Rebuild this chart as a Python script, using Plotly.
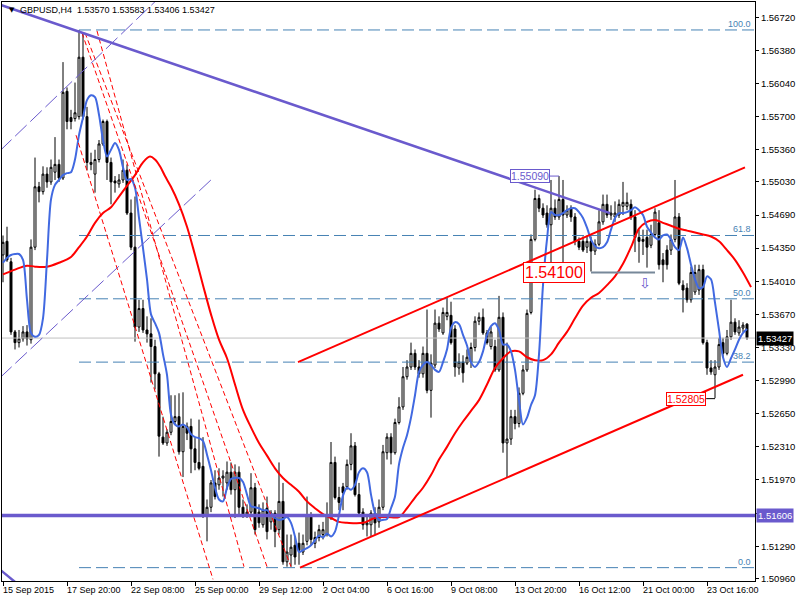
import plotly.graph_objects as go

# ---------------- data ----------------
tick_idx = [0, 16, 32, 48, 64, 80, 96, 112, 128, 144, 160, 176]
tick_labels = ["15 Sep 2015", "17 Sep 20:00", "22 Sep 08:00", "25 Sep 00:00", "29 Sep 12:00",
               "2 Oct 04:00", "6 Oct 16:00", "9 Oct 08:00", "13 Oct 20:00", "16 Oct 12:00",
               "21 Oct 00:00", "23 Oct 16:00"]

price_ticks = [1.5096, 1.5129, 1.5163, 1.5197, 1.5231, 1.5265, 1.5299, 1.5333, 1.5367,
               1.5401, 1.5435, 1.5469, 1.5503, 1.5536, 1.5570, 1.5604, 1.5638, 1.5672]
price_tick_labels = ["1.50960", "1.51290", "", "1.51970", "1.52310", "1.52650", "1.52990",
                     "1.53330", "1.53670", "1.54010", "1.54350", "1.54690", "1.55030",
                     "1.55360", "1.55700", "1.56040", "1.56380", "1.56720"]

bars = list(range(187))
open_ = [1.5428,1.5442,1.5421,1.5349,1.5338,1.5342,1.5349,1.5341,1.5436,1.5498,
         1.5493,1.5511,1.5503,1.5513,1.5521,1.5507,1.5596,1.5569,1.5568,1.5570,
         1.5631,1.5570,1.5521,1.5511,1.5526,1.5542,1.5565,1.5523,1.5504,1.5501,
         1.5505,1.5515,1.5471,1.5436,1.5354,1.5373,1.5351,1.5347,1.5334,1.5306,
         1.5241,1.5235,1.5246,1.5257,1.5262,1.5226,1.5252,1.5252,1.5229,1.5215,
         1.5211,1.5161,1.5169,1.5194,1.5192,1.5199,1.5194,1.5205,1.5187,1.5205,
         1.5169,1.5161,1.5164,1.5189,1.5164,1.5151,1.5168,1.5154,1.5163,1.5146,
         1.5175,1.5113,1.5120,1.5130,1.5132,1.5123,1.5134,1.5161,1.5132,1.5138,
         1.5141,1.5141,1.5158,1.5215,1.5179,1.5190,1.5190,1.5213,1.5232,1.5182,
         1.5164,1.5151,1.5151,1.5163,1.5154,1.5169,1.5225,1.5241,1.5225,1.5256,
         1.5272,1.5303,1.5313,1.5327,1.5313,1.5306,1.5327,1.5289,1.5315,1.5358,
         1.5348,1.5365,1.5366,1.5352,1.5312,1.5318,1.5317,1.5318,1.5333,1.5360,
         1.5364,1.5348,1.5334,1.5334,1.5310,1.5364,1.5235,1.5239,1.5262,1.5255,
         1.5286,1.5310,1.5369,1.5444,1.5486,1.5476,1.5471,1.5459,1.5476,1.5467,
         1.5485,1.5469,1.5476,1.5467,1.5442,1.5442,1.5436,1.5442,1.5432,1.5439,
         1.5462,1.5480,1.5469,1.5467,1.5469,1.5478,1.5478,1.5480,1.5467,1.5446,
         1.5444,1.5446,1.5438,1.5449,1.5461,1.5423,1.5433,1.5433,1.5444,1.5467,
         1.5397,1.5394,1.5382,1.5390,1.5392,1.5413,1.5338,1.5312,1.5305,1.5313,
         1.5338,1.5327,1.5344,1.5359,1.5348,1.5353,1.5357]
high = [1.5448,1.5457,1.5425,1.5351,1.5351,1.5355,1.5356,1.5444,1.5528,1.5503,
        1.5519,1.5518,1.5526,1.5549,1.5526,1.5626,1.5600,1.5577,1.5605,1.5659,
        1.5656,1.5580,1.5533,1.5536,1.5546,1.5567,1.5567,1.5528,1.5509,1.5511,
        1.5526,1.5521,1.5485,1.5488,1.5382,1.5382,1.5365,1.5363,1.5341,1.5308,
        1.5262,1.5249,1.5284,1.5284,1.5286,1.5287,1.5256,1.5260,1.5240,1.5259,
        1.5241,1.5177,1.5197,1.5207,1.5209,1.5207,1.5216,1.5215,1.5213,1.5211,
        1.5177,1.5172,1.5204,1.5194,1.5172,1.5174,1.5180,1.5166,1.5166,1.5215,
        1.5194,1.5141,1.5141,1.5139,1.5143,1.5141,1.5180,1.5164,1.5144,1.5151,
        1.5154,1.5174,1.5236,1.5221,1.5190,1.5194,1.5218,1.5245,1.5236,1.5194,
        1.5168,1.5159,1.5166,1.5169,1.5177,1.5233,1.5245,1.5245,1.5260,1.5282,
        1.5313,1.5320,1.5338,1.5331,1.5320,1.5334,1.5372,1.5326,1.5372,1.5365,
        1.5374,1.5384,1.5380,1.5356,1.5327,1.5325,1.5331,1.5338,1.5365,1.5369,
        1.5373,1.5351,1.5354,1.5341,1.5386,1.5369,1.5338,1.5269,1.5269,1.5292,
        1.5315,1.5372,1.5449,1.5495,1.5490,1.5481,1.5479,1.5505,1.5485,1.5509,
        1.5505,1.5479,1.5479,1.5471,1.5446,1.5447,1.5448,1.5447,1.5444,1.5474,
        1.5490,1.5490,1.5479,1.5483,1.5485,1.5503,1.5492,1.5485,1.5474,1.5454,
        1.5454,1.5454,1.5459,1.5476,1.5474,1.5430,1.5438,1.5449,1.5505,1.5471,
        1.5402,1.5399,1.5416,1.5418,1.5418,1.5418,1.5341,1.5320,1.5320,1.5343,
        1.5343,1.5351,1.5382,1.5363,1.5361,1.5359,1.5358]
low = [1.5400,1.5421,1.5346,1.5331,1.5333,1.5339,1.5335,1.5337,1.5433,1.5482,
       1.5490,1.5497,1.5500,1.5505,1.5503,1.5505,1.5557,1.5557,1.5565,1.5567,
       1.5567,1.5515,1.5515,1.5492,1.5523,1.5540,1.5505,1.5480,1.5492,1.5497,
       1.5502,1.5469,1.5433,1.5339,1.5349,1.5348,1.5338,1.5297,1.5290,1.5221,
       1.5233,1.5232,1.5243,1.5254,1.5223,1.5200,1.5238,1.5204,1.5207,1.5207,
       1.5158,1.5134,1.5164,1.5177,1.5187,1.5180,1.5187,1.5182,1.5158,1.5159,
       1.5158,1.5158,1.5161,1.5141,1.5148,1.5148,1.5136,1.5146,1.5128,1.5141,
       1.5110,1.5108,1.5108,1.5110,1.5110,1.5120,1.5130,1.5130,1.5127,1.5134,
       1.5136,1.5139,1.5156,1.5177,1.5166,1.5166,1.5187,1.5207,1.5180,1.5161,
       1.5146,1.5139,1.5139,1.5141,1.5148,1.5166,1.5218,1.5213,1.5223,1.5254,
       1.5269,1.5300,1.5310,1.5310,1.5302,1.5302,1.5286,1.5261,1.5312,1.5349,
       1.5346,1.5361,1.5336,1.5303,1.5305,1.5297,1.5315,1.5312,1.5329,1.5356,
       1.5346,1.5336,1.5331,1.5308,1.5308,1.5225,1.5200,1.5233,1.5249,1.5251,
       1.5284,1.5308,1.5367,1.5442,1.5472,1.5466,1.5456,1.5416,1.5464,1.5464,
       1.5413,1.5466,1.5462,1.5438,1.5433,1.5431,1.5430,1.5411,1.5428,1.5437,
       1.5459,1.5466,1.5464,1.5462,1.5466,1.5469,1.5474,1.5464,1.5431,1.5420,
       1.5428,1.5415,1.5435,1.5447,1.5413,1.5400,1.5413,1.5428,1.5441,1.5397,
       1.5369,1.5379,1.5379,1.5387,1.5387,1.5336,1.5305,1.5305,1.5281,1.5310,
       1.5323,1.5325,1.5341,1.5346,1.5345,1.5349,1.5341]
close = [1.5441,1.5423,1.5349,1.5338,1.5342,1.5349,1.5342,1.5436,1.5498,1.5493,
         1.5511,1.5503,1.5518,1.5521,1.5507,1.5595,1.5565,1.5565,1.5574,1.5631,
         1.5570,1.5523,1.5523,1.5526,1.5542,1.5565,1.5523,1.5503,1.5502,1.5505,
         1.5515,1.5471,1.5436,1.5354,1.5373,1.5351,1.5347,1.5334,1.5306,1.5242,
         1.5235,1.5246,1.5257,1.5262,1.5226,1.5252,1.5245,1.5229,1.5215,1.5209,
         1.5161,1.5169,1.5194,1.5180,1.5199,1.5201,1.5205,1.5187,1.5205,1.5169,
         1.5161,1.5164,1.5189,1.5146,1.5153,1.5166,1.5144,1.5163,1.5144,1.5175,
         1.5113,1.5123,1.5128,1.5118,1.5125,1.5132,1.5161,1.5136,1.5138,1.5146,
         1.5146,1.5161,1.5215,1.5179,1.5174,1.5184,1.5213,1.5232,1.5182,1.5163,
         1.5151,1.5153,1.5163,1.5153,1.5169,1.5226,1.5241,1.5225,1.5256,1.5272,
         1.5303,1.5313,1.5327,1.5313,1.5306,1.5327,1.5289,1.5317,1.5358,1.5352,
         1.5369,1.5369,1.5338,1.5313,1.5318,1.5307,1.5323,1.5333,1.5360,1.5364,
         1.5348,1.5338,1.5349,1.5310,1.5364,1.5235,1.5239,1.5262,1.5255,1.5286,
         1.5310,1.5368,1.5444,1.5486,1.5476,1.5469,1.5459,1.5476,1.5467,1.5485,
         1.5469,1.5474,1.5467,1.5442,1.5436,1.5433,1.5442,1.5432,1.5439,1.5462,
         1.5480,1.5469,1.5471,1.5471,1.5480,1.5482,1.5482,1.5467,1.5446,1.5442,
         1.5442,1.5436,1.5449,1.5472,1.5418,1.5418,1.5418,1.5444,1.5467,1.5399,
         1.5392,1.5382,1.5410,1.5410,1.5413,1.5338,1.5312,1.5308,1.5313,1.5336,
         1.5327,1.5344,1.5359,1.5349,1.5354,1.5356,1.5343]

# fast moving average (blue), one value per bar
blue_ma = [1.5420,1.5425,1.5428,1.5429,1.5429,1.5423,1.5382,1.5348,1.5344,1.5346,
           1.5363,1.5423,1.5485,1.5500,1.5505,1.5510,1.5512,1.5513,1.5526,1.5551,
           1.5569,1.5587,1.5592,1.5590,1.5572,1.5546,1.5529,1.5536,1.5543,1.5536,
           1.5518,1.5505,1.5506,1.5497,1.5466,1.5435,1.5403,1.5367,1.5358,1.5348,
           1.5326,1.5305,1.5264,1.5254,1.5252,1.5254,1.5251,1.5244,1.5241,1.5240,
           1.5237,1.5223,1.5207,1.5189,1.5177,1.5175,1.5189,1.5198,1.5199,1.5199,
           1.5195,1.5182,1.5170,1.5169,1.5168,1.5166,1.5166,1.5162,1.5158,1.5156,
           1.5157,1.5159,1.5153,1.5139,1.5123,1.5125,1.5127,1.5130,1.5135,1.5140,
           1.5138,1.5142,1.5139,1.5144,1.5161,1.5181,1.5189,1.5187,1.5192,1.5205,
           1.5209,1.5205,1.5182,1.5163,1.5156,1.5156,1.5157,1.5168,1.5180,1.5213,
           1.5230,1.5243,1.5261,1.5284,1.5308,1.5315,1.5318,1.5315,1.5310,1.5308,
           1.5318,1.5331,1.5353,1.5359,1.5357,1.5346,1.5335,1.5318,1.5313,1.5318,
           1.5329,1.5346,1.5355,1.5358,1.5351,1.5336,1.5336,1.5329,1.5310,1.5279,
           1.5254,1.5261,1.5274,1.5284,1.5326,1.5397,1.5444,1.5472,1.5469,1.5469,
           1.5471,1.5474,1.5476,1.5476,1.5472,1.5466,1.5456,1.5444,1.5437,1.5435,
           1.5436,1.5441,1.5454,1.5466,1.5471,1.5471,1.5472,1.5474,1.5477,1.5474,
           1.5469,1.5457,1.5451,1.5446,1.5444,1.5448,1.5449,1.5444,1.5436,1.5433,
           1.5446,1.5435,1.5418,1.5403,1.5394,1.5395,1.5406,1.5403,1.5379,1.5351,
           1.5323,1.5313,1.5322,1.5331,1.5341,1.5348,1.5352]

# slow moving average (red), read at selected bars
red_ma_x = [0,3,6,8,11,14,17,19,21,23,25,27,29,31,33,35,36.75,38,39.25,40.5,
            42,44,46,48,50,52,54,56,58,60,62,64,66,68,70,72,74,76,78,80,
            82,84,86,90,93,96,99,101,103,105,107,109,111,113,115,117,119,121,123,125,
            127,129,131,133,135,137,139,141,143,145,147,149,151,153,155,157,159,161,163,165,
            167,169,171,173,175,177,179,181,183,185,187]
red_ma_y = [1.5408,1.5413,1.5417,1.5416,1.5416,1.5420,1.5426,1.5436,1.5447,1.5461,
            1.5471,1.5477,1.5488,1.5499,1.5510,1.5523,1.5529,1.5526,1.5519,1.5509,
            1.5498,1.5480,1.5457,1.5428,1.5397,1.5367,1.5341,1.5322,1.5295,1.5269,
            1.5251,1.5235,1.5222,1.5209,1.5199,1.5192,1.5185,1.5175,1.5168,1.5162,
            1.5158,1.5154,1.5153,1.5153,1.5158,1.5159,1.5159,1.5168,1.5179,1.5189,
            1.5202,1.5218,1.5231,1.5245,1.5257,1.5268,1.5279,1.5295,1.5312,1.5322,
            1.5329,1.5329,1.5323,1.5320,1.5320,1.5326,1.5338,1.5349,1.5363,1.5376,
            1.5384,1.5389,1.5397,1.5406,1.5419,1.5436,1.5455,1.5462,1.5464,1.5461,
            1.5458,1.5455,1.5453,1.5451,1.5449,1.5447,1.5442,1.5433,1.5423,1.5410,
            1.5395]

last_price = 1.53427
hline_price = 1.51606
fib_names = ["0.0", "38.2", "50.0", "61.8", "100.0"]
fib_prices = [1.5107, 1.5318, 1.5383, 1.5448, 1.5659]
fib_start = 19

# drawn objects: (bar, price) end points
purple_trend = ([-0.75, 151.75], [1.5685, 1.5471])
purple_trend_low = ([-0.75, 12], [1.5105, 1.5062])
purple_thin = [([-0.75, 38.5], [1.5535, 1.5690]), ([-0.75, 52.5], [1.5302, 1.5507])]
red_channel = [([73.75, 185.5], [1.5318, 1.5518]), ([74.25, 185.0], [1.5107, 1.5305])]
red_fan = [([18.25, 52.5], [1.5551, 1.5095]),
           ([19.75, 66.0], [1.5656, 1.5108]),
           ([20.5, 72.0], [1.5656, 1.5108]),
           ([23.5, 60.25], [1.5658, 1.5108])]
level_54100 = ([147, 163], [1.5410, 1.5410])
mark_55090 = 1.5509
mark_52805 = 1.52805

PURPLE = "#6A5ACD"
FIB = "#4682B4"
FONT = "Liberation Sans"

fig = go.Figure()

# background objects
fig.add_trace(go.Scatter(x=[-1, 189], y=[last_price, last_price], mode="lines",
                         line=dict(color="#C0C0C0", width=1), hoverinfo="skip"))
for p in fib_prices:
    fig.add_trace(go.Scatter(x=[fib_start, 189], y=[p, p], mode="lines",
                             line=dict(color=FIB, width=1, dash="12px,5px"), hoverinfo="skip"))

fig.add_trace(go.Candlestick(
    x=bars, open=open_, high=high, low=low, close=close,
    increasing=dict(line=dict(color="black", width=1), fillcolor="white"),
    decreasing=dict(line=dict(color="black", width=1), fillcolor="black"),
    whiskerwidth=0, hoverinfo="skip"))

fig.add_trace(go.Scatter(x=red_ma_x, y=red_ma_y, mode="lines",
                         line=dict(color="#FF0000", width=2, shape="spline"), hoverinfo="skip"))
fig.add_trace(go.Scatter(x=bars, y=blue_ma, mode="lines",
                         line=dict(color="#4169E1", width=2, shape="spline", smoothing=0.8),
                         hoverinfo="skip"))

for xs, ys in red_fan:
    fig.add_trace(go.Scatter(x=xs, y=ys, mode="lines",
                             line=dict(color="#FF0000", width=1, dash="5px,3px"), hoverinfo="skip"))
for xs, ys in purple_thin:
    fig.add_trace(go.Scatter(x=xs, y=ys, mode="lines",
                             line=dict(color=PURPLE, width=1, dash="16px,5px"), hoverinfo="skip"))

fig.add_trace(go.Scatter(x=[-1, 189], y=[hline_price, hline_price], mode="lines",
                         line=dict(color=PURPLE, width=3.5), hoverinfo="skip"))
fig.add_trace(go.Scatter(x=purple_trend[0], y=purple_trend[1], mode="lines",
                         line=dict(color=PURPLE, width=2.5), hoverinfo="skip"))
fig.add_trace(go.Scatter(x=purple_trend_low[0], y=purple_trend_low[1], mode="lines",
                         line=dict(color=PURPLE, width=2.5), hoverinfo="skip"))
for xs, ys in red_channel:
    fig.add_trace(go.Scatter(x=xs, y=ys, mode="lines",
                             line=dict(color="#FF0000", width=2), hoverinfo="skip"))

fig.add_trace(go.Scatter(x=level_54100[0], y=level_54100[1], mode="lines",
                         line=dict(color="#778899", width=2), hoverinfo="skip"))
fig.add_trace(go.Scatter(x=[136.75, 139], y=[mark_55090, mark_55090], mode="lines",
                         line=dict(color=PURPLE, width=1), hoverinfo="skip"))
fig.add_trace(go.Scatter(x=[175.8, 178], y=[mark_52805, mark_52805], mode="lines",
                         line=dict(color="black", width=1), hoverinfo="skip"))

ann = []
for i, t in zip(tick_idx, tick_labels):
    ann.append(dict(x=i, xref="x", y=0, yref="paper", text=t, showarrow=False,
                    xanchor="left", yanchor="top", yshift=-2, xshift=-2,
                    font=dict(family=FONT, size=9, color="black")))
for name, p in zip(fib_names, fib_prices):
    ann.append(dict(x=1, xref="paper", y=p, yref="y", text=name, showarrow=False,
                    xanchor="right", yanchor="bottom", xshift=-2, yshift=-1,
                    font=dict(family=FONT, size=9, color=FIB)))
ann.append(dict(x=1, xref="paper", y=last_price, yref="y", text="1.53427", showarrow=False,
                xanchor="left", yanchor="middle", xshift=1, bgcolor="black", borderpad=1,
                font=dict(family=FONT, size=9.5, color="white")))
ann.append(dict(x=1, xref="paper", y=hline_price, yref="y", text="1.51606", showarrow=False,
                xanchor="left", yanchor="middle", xshift=1, bgcolor=PURPLE, borderpad=1,
                font=dict(family=FONT, size=9.5, color="white")))
ann.append(dict(x=136.75, xref="x", y=mark_55090, yref="y", text="1.55090", showarrow=False,
                xanchor="right", yanchor="middle", bgcolor="white", bordercolor=PURPLE,
                borderwidth=1, borderpad=0, font=dict(family=FONT, size=10.5, color=PURPLE)))
ann.append(dict(x=145.5, xref="x", y=1.5410, yref="y", text="1.54100", showarrow=False,
                xanchor="right", yanchor="middle", bgcolor="white", bordercolor="#FF0000",
                borderwidth=1, borderpad=1, font=dict(family=FONT, size=16, color="#FF0000")))
ann.append(dict(x=175.8, xref="x", y=mark_52805, yref="y", text="1.52805", showarrow=False,
                xanchor="right", yanchor="middle", bgcolor="white", bordercolor="#FF0000",
                borderwidth=1, borderpad=0, font=dict(family=FONT, size=10.5, color="#FF0000")))
ann.append(dict(x=160.5, xref="x", y=1.5399, yref="y", text="⇩", showarrow=False,
                xanchor="center", yanchor="middle",
                font=dict(family="DejaVu Sans", size=14, color=PURPLE)))
ann.append(dict(x=0.007, xref="paper", y=0.987, yref="paper", text="▼", showarrow=False,
                xanchor="left", yanchor="middle",
                font=dict(family="DejaVu Sans", size=7, color="black")))
ann.append(dict(x=0.021, xref="paper", y=0.987, yref="paper",
                text="GBPUSD,H4  1.53570 1.53583 1.53406 1.53427", showarrow=False,
                xanchor="left", yanchor="middle",
                font=dict(family=FONT, size=9, color="black")))

fig.update_layout(
    width=800, height=600,
    margin=dict(l=2, r=45, t=2, b=19),
    paper_bgcolor="white", plot_bgcolor="white",
    showlegend=False,
    annotations=ann,
    xaxis=dict(range=[-0.25, 188], showgrid=False, zeroline=False, rangeslider=dict(visible=False),
               tickvals=tick_idx, ticktext=[""] * len(tick_idx), ticks="outside", ticklen=4,
               tickcolor="black", showline=True, linecolor="black", linewidth=1, mirror=True),
    yaxis=dict(range=[1.50933, 1.56877], side="right", showgrid=False, zeroline=False,
               tickvals=price_ticks, ticktext=price_tick_labels, ticks="outside", ticklen=3,
               tickcolor="black", showline=True, linecolor="black", linewidth=1, mirror=True,
               tickfont=dict(family=FONT, size=9.5, color="black")),
)

fig.write_html("out.html", config={"displayModeBar": False},
               post_script="document.body.style.margin='0';document.body.style.overflow='hidden';")
